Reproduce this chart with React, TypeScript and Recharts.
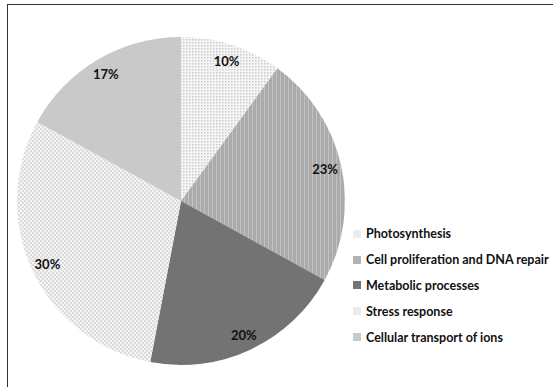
import { PieChart, Pie, Cell } from 'recharts'

const CATEGORIES = [
  'Photosynthesis',
  'Cell proliferation and DNA repair',
  'Metabolic processes',
  'Stress response',
  'Cellular transport of ions',
]
const PERCENTS = [10, 23, 20, 30, 17]

const FILLS = ['url(#dots)', 'url(#vlines)', '#737373', 'url(#checker)', '#c9c9c9']
const SWATCH = ['#ececec', '#b3b3b3', '#737373', '#ececec', '#c9c9c9']

const data = CATEGORIES.map((name, i) => ({ name, value: PERCENTS[i] }))

const RAD = Math.PI / 180

function renderLabel(props: any) {
  const { cx, cy, midAngle, outerRadius, value } = props
  const r = outerRadius * 0.9
  const x = cx + r * Math.cos(-midAngle * RAD)
  const y = cy + r * Math.sin(-midAngle * RAD)
  return (
    <text
      x={x}
      y={y}
      textAnchor="middle"
      dominantBaseline="central"
      fontFamily="Lato, sans-serif"
      fontWeight={700}
      fontSize={13}
      fill="#111"
    >
      {value}%
    </text>
  )
}

export default function App() {
  return (
    <div
      style={{
        position: 'fixed',
        left: 0,
        top: 0,
        width: 553,
        height: 387,
        background: '#fff',
        overflow: 'hidden',
      }}
    >
      <div
        style={{
          position: 'absolute',
          left: 7,
          top: 4,
          width: 560,
          height: 400,
          borderTop: '1.5px solid #333',
          borderLeft: '1.5px solid #333',
        }}
      />
      <div style={{ position: 'absolute', left: 0, top: 0 }}>
        <PieChart width={553} height={387}>
          <defs>
            <pattern id="dots" width="3" height="3" patternUnits="userSpaceOnUse">
              <rect width="3" height="3" fill="#f5f5f5" />
              <rect width="1.5" height="1.5" fill="#cccccc" />
            </pattern>
            <pattern id="checker" width="4" height="4" patternUnits="userSpaceOnUse">
              <rect width="4" height="4" fill="#f4f4f4" />
              <rect width="2" height="2" fill="#dcdcdc" />
              <rect x="2" y="2" width="2" height="2" fill="#dcdcdc" />
            </pattern>
            <pattern id="vlines" width="4" height="4" patternUnits="userSpaceOnUse">
              <rect width="4" height="4" fill="#ababab" />
              <rect width="1" height="4" fill="#c2c2c2" />
            </pattern>
          </defs>
          <Pie
            data={data}
            dataKey="value"
            cx={176}
            cy={196}
            outerRadius={164}
            startAngle={90}
            endAngle={-270}
            stroke="none"
            label={renderLabel}
            labelLine={false}
            isAnimationActive={false}
          >
            {data.map((d, i) => (
              <Cell key={d.name} fill={FILLS[i]} />
            ))}
          </Pie>
        </PieChart>
      </div>
      <div style={{ position: 'absolute', left: 353, top: 221 }}>
        {CATEGORIES.map((name, i) => (
          <div
            key={name}
            style={{
              display: 'flex',
              alignItems: 'center',
              height: 25.8,
              fontFamily: 'Lato, sans-serif',
              fontWeight: 700,
              fontSize: 12.5,
              color: '#111',
              whiteSpace: 'nowrap',
            }}
          >
            <span
              style={{
                display: 'inline-block',
                width: 8,
                height: 8,
                background: SWATCH[i],
                marginRight: 5,
              }}
            />
            {name}
          </div>
        ))}
      </div>
    </div>
  )
}
